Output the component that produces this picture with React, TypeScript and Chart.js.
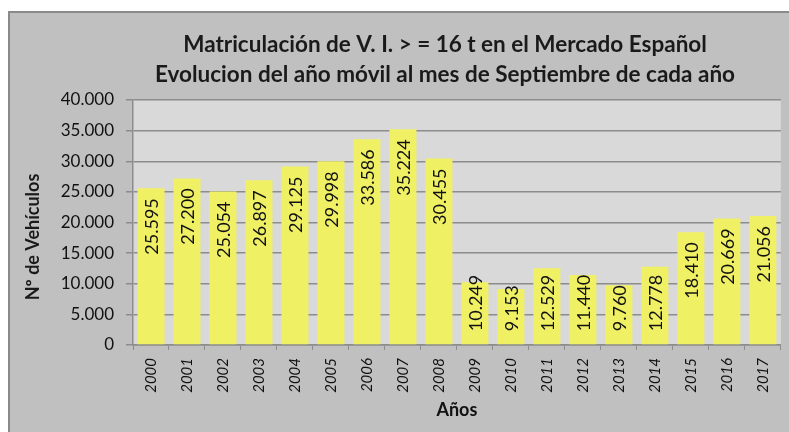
import React, { useEffect, useRef } from "react";
import { Chart, registerables } from "chart.js";

Chart.register(...registerables);

const years: string[] = ["2000","2001","2002","2003","2004","2005","2006","2007","2008","2009","2010","2011","2012","2013","2014","2015","2016","2017"];
const matriculaciones: number[] = [25595, 27200, 25054, 26897, 29125, 29998, 33586, 35224, 30455, 10249, 9153, 12529, 11440, 9760, 12778, 18410, 20669, 21056];
const titleLines: string[] = [
  "Matriculación de V. I. > = 16 t en el Mercado Español",
  "Evolucion del año móvil al mes de Septiembre de cada año",
];
const yAxisTitle = "Nº de Vehículos";
const xAxisTitle = "Años";

const fmt = (v: number) => String(Math.round(v)).replace(/\B(?=(\d{3})+(?!\d))/g, ".");

const FONT = "Lato, 'Open Sans', sans-serif";

const backgroundPlugin = {
  id: "bgPlugin",
  beforeDraw(chart: any) {
    const { ctx, chartArea } = chart;
    ctx.save();
    ctx.fillStyle = "#ffffff";
    ctx.fillRect(0, 0, chart.width, chart.height);
    ctx.fillStyle = "#c0c0c0";
    ctx.fillRect(8, 11, chart.width - 8, chart.height - 11);
    ctx.strokeStyle = "#8a8a8a";
    ctx.lineWidth = 2;
    ctx.beginPath();
    ctx.moveTo(9, chart.height);
    ctx.lineTo(9, 12);
    ctx.lineTo(chart.width, 12);
    ctx.stroke();
    ctx.fillStyle = "#d9d9d9";
    ctx.fillRect(chartArea.left, chartArea.top, chartArea.right - chartArea.left, chartArea.bottom - chartArea.top);
    ctx.restore();
  },
  afterDraw(chart: any) {
    const { ctx } = chart;
    ctx.save();
    ctx.fillStyle = "#1a1a1a";
    ctx.font = `bold 22.5px ${FONT}`;
    ctx.textAlign = "center";
    ctx.textBaseline = "middle";
    ctx.fillText(titleLines[0], 445, 45);
    ctx.fillText(titleLines[1], 445, 75);
    ctx.font = `bold 18px ${FONT}`;
    ctx.translate(33, 237);
    ctx.rotate(-Math.PI / 2);
    ctx.fillText(yAxisTitle, 0, 0);
    ctx.restore();
  },
};

const labelPlugin = {
  id: "barLabels",
  afterDatasetsDraw(chart: any) {
    const { ctx } = chart;
    const meta = chart.getDatasetMeta(0);
    const data = chart.data.datasets[0].data as number[];
    ctx.save();
    ctx.font = `18px ${FONT}`;
    ctx.fillStyle = "#111111";
    ctx.textAlign = "right";
    ctx.textBaseline = "middle";
    meta.data.forEach((bar: any, i: number) => {
      const text = fmt(data[i]);
      const w = ctx.measureText(text).width;
      let top = bar.y + 10;
      if (top + w > bar.base - 13) top = bar.base - 13 - w;
      ctx.save();
      ctx.translate(bar.x, top);
      ctx.rotate(-Math.PI / 2);
      ctx.fillText(text, 0, 1);
      ctx.restore();
    });
    ctx.restore();
  },
};

export default function App() {
  const ref = useRef<HTMLCanvasElement | null>(null);
  useEffect(() => {
    if (!ref.current) return;
    const chart = new Chart(ref.current, {
      type: "bar",
      data: {
        labels: years,
        datasets: [
          {
            data: matriculaciones,
            backgroundColor: "#f0f064",
            borderWidth: 0,
            barPercentage: 0.75,
            categoryPercentage: 1,
          },
        ],
      },
      options: {
        responsive: false,
        animation: false,
        devicePixelRatio: 1,
        layout: { padding: { top: 100, left: 0, right: 6, bottom: 0 } },
        plugins: {
          legend: { display: false },
          title: { display: false },
          tooltip: { enabled: false },
        },
        scales: {
          x: {
            afterFit: (s: any) => { s.height = 87; },
            grid: { offset: true, drawOnChartArea: false, drawTicks: true, tickLength: 5, color: "#8c8c8c", lineWidth: 1 },
            border: { display: true, color: "#8c8c8c", width: 1.5 },
            ticks: {
              minRotation: 90,
              maxRotation: 90,
              padding: 8,
              color: "#111111",
              font: { family: FONT, size: 15, style: "italic" },
            },
            title: {
              display: true,
              text: xAxisTitle,
              color: "#111111",
              font: { family: FONT, size: 18, weight: "bold" },
              padding: { top: 4, bottom: 11 },
            },
          },
          y: {
            min: 0,
            max: 40000,
            afterFit: (s: any) => { s.width = 133; },
            grid: { color: "#8c8c8c", lineWidth: 1.5, tickLength: 7, drawTicks: true },
            border: { display: true, color: "#8c8c8c", width: 1.5 },
            ticks: {
              stepSize: 5000,
              padding: 12,
              color: "#111111",
              font: { family: FONT, size: 17 },
              callback: (v: any) => fmt(Number(v)),
            },
            title: { display: false },
          },
        },
      },
      plugins: [backgroundPlugin, labelPlugin],
    });
    return () => chart.destroy();
  }, []);
  return (
    <div style={{ position: "fixed", left: 0, top: 0, width: 789, height: 432 }}>
      <canvas ref={ref} width={789} height={432} style={{ display: "block", width: 789, height: 432 }} />
    </div>
  );
}
